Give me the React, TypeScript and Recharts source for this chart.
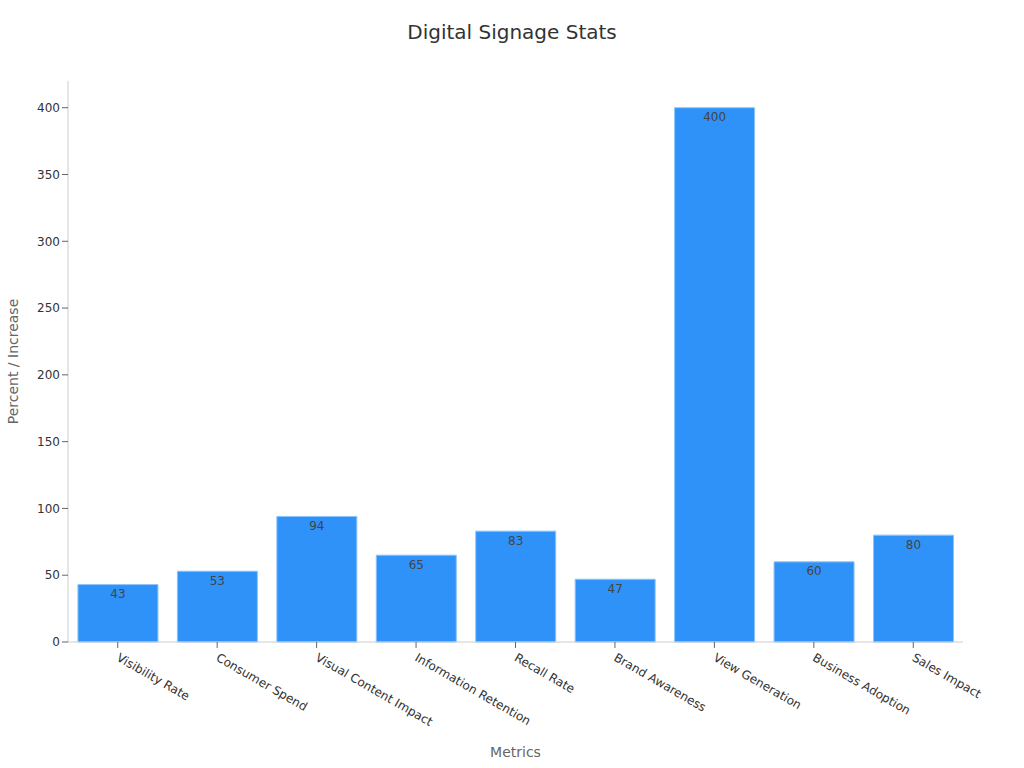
import { BarChart, Bar, XAxis, YAxis, LabelList } from "recharts";

const metrics = [
  "Visibility Rate",
  "Consumer Spend",
  "Visual Content Impact",
  "Information Retention",
  "Recall Rate",
  "Brand Awareness",
  "View Generation",
  "Business Adoption",
  "Sales Impact",
];
const values = [43, 53, 94, 65, 83, 47, 400, 60, 80];
const yTicks = [0, 50, 100, 150, 200, 250, 300, 350, 400];

const data = metrics.map((m, i) => ({ metric: m, value: values[i] }));

const FONT = "DejaVu Sans, sans-serif";

function AngledTick({ x, y, payload }: any) {
  return (
    <g transform={`translate(${x - 2},${y + 10})`}>
      <text
        transform="rotate(30)"
        textAnchor="start"
        fill="#333"
        fontSize={12}
        fontFamily={FONT}
      >
        {payload.value}
      </text>
    </g>
  );
}

export default function App() {
  return (
    <div
      style={{
        position: "absolute",
        left: 0,
        top: 0,
        width: 1024,
        height: 768,
        background: "#fff",
        fontFamily: FONT,
      }}
    >
      <div
        style={{
          position: "absolute",
          top: 20,
          width: 1024,
          textAlign: "center",
          fontSize: 20,
          color: "#333",
        }}
      >
        Digital Signage Stats
      </div>
      <BarChart
        width={1024}
        height={768}
        data={data}
        margin={{ top: 81, right: 61, left: 8, bottom: 0 }}
        barCategoryGap="10%"
      >
        <XAxis
          dataKey="metric"
          interval={0}
          tick={<AngledTick />}
          tickLine={{ stroke: "#666" }}
          axisLine={{ stroke: "#ccc" }}
          height={126}
          label={{
            value: "Metrics",
            position: "insideBottom",
            offset: 11,
            fill: "#666",
            fontSize: 14,
            fontFamily: FONT,
          }}
        />
        <YAxis
          domain={[0, 420]}
          ticks={yTicks}
          width={60}
          tick={{ fill: "#333", fontSize: 12, fontFamily: FONT }}
          tickLine={{ stroke: "#666" }}
          axisLine={{ stroke: "#ccc" }}
          label={{
            value: "Percent / Increase",
            angle: -90,
            position: "insideLeft",
            offset: 5,
            fill: "#666",
            fontSize: 14,
            fontFamily: FONT,
            style: { textAnchor: "middle" },
          }}
        />
        <Bar
          dataKey="value"
          fill="#2f92f8"
          stroke="#8cc4fb"
          strokeWidth={1}
          isAnimationActive={false}
        >
          <LabelList
            dataKey="value"
            position="insideTop"
            fill="#444"
            fontSize={12}
            fontFamily={FONT}
          />
        </Bar>
      </BarChart>
    </div>
  );
}
